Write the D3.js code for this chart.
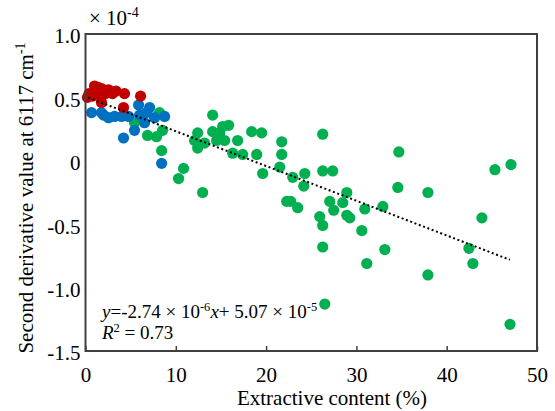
<!DOCTYPE html>
<html><head><meta charset="utf-8">
<script src="https://cdn.jsdelivr.net/npm/d3@7"></script>
<style>body{margin:0;background:#fff}svg text{font-family:"Liberation Serif","Times New Roman","DejaVu Serif",serif !important}</style>
</head><body>
<svg id="c" width="555" height="411"></svg>
<script>
const xTicks = [0,10,20,30,40,50];
const yTicks = [1.0,0.5,0,-0.5,-1.0,-1.5];
const yTickLabels = ["1.0","0.5","0","-0.5","-1.0","-1.5"];
const redX = [0.22,0.39,1.0,1.39,1.77,2.22,2.55,2.99,3.38,4.32,6.10,1.77,4.21,0.78,1.55];
const redY = [0.50,0.53,0.59,0.58,0.57,0.53,0.56,0.53,0.55,0.53,0.51,0.46,0.42,0.51,0.52];
const blueX = [0.67,1.77,2.55,3.22,3.99,4.77,5.88,7.10,5.99,6.76,7.65,8.76,6.54,5.43,4.21,8.43,2.0];
const blueY = [0.38,0.38,0.34,0.35,0.35,0.35,0.44,0.42,0.36,0.38,0.34,0.35,0.30,0.24,0.18,-0.02,0.36];
const greenX = [8.20,5.43,6.87,7.87,8.54,8.43,14.08,12.42,12.08,12.42,13.19,14.08,15.19,15.85,14.86,14.52,15.41,16.85,16.30,17.41,18.40,19.51,18.96,19.62,21.73,21.73,21.51,22.95,24.28,24.17,26.27,26.27,27.38,28.94,22.28,22.73,23.50,27.05,28.49,27.49,28.94,29.27,25.94,26.27,30.93,32.93,30.60,26.27,33.15,31.15,26.50,34.70,34.59,37.92,37.92,45.34,47.12,43.90,42.46,42.90,47.01,10.86,10.31,12.97];
const greenY = [0.38,0.30,0.20,0.19,0.24,0.08,0.36,0.22,0.16,0.10,0.14,0.23,0.27,0.28,0.22,0.16,0.16,0.16,0.06,0.05,0.23,0.22,0.05,-0.10,0.15,0.05,-0.05,-0.13,-0.10,-0.20,0.21,-0.08,-0.08,-0.25,-0.32,-0.32,-0.37,-0.32,-0.33,-0.39,-0.43,-0.45,-0.44,-0.51,-0.38,-0.36,-0.55,-0.68,-0.70,-0.81,-1.13,0.07,-0.21,-0.25,-0.90,-0.07,-0.03,-0.45,-0.69,-0.81,-1.29,-0.06,-0.14,-0.25];
const slope = -0.0274, intercept = 0.507; // in units of 1e-4
const fitRange = [0.3, 47];

const svg = d3.select("#c");
const L=85.5, R=537, T=34, B=351;
const x = d3.scaleLinear().domain([0,50]).range([L,R]);
const y = d3.scaleLinear().domain([-1.5,1.0]).range([B,T]);
const axisColor = "#404040";
const FONT = "Liberation Serif, Times New Roman, DejaVu Serif, serif";

function pts(xs, ys, color){
  svg.append("g").selectAll("circle").data(xs.map((v,i)=>[v,ys[i]])).join("circle")
    .attr("cx",d=>x(d[0])).attr("cy",d=>y(d[1])).attr("r",5.6).attr("fill",color);
}
pts(greenX, greenY, "#00B050");
pts(blueX, blueY, "#0070C0");
pts(redX, redY, "#C00000");

svg.append("line").attr("x1",x(fitRange[0])).attr("y1",y(slope*fitRange[0]+intercept))
  .attr("x2",x(fitRange[1])).attr("y2",y(slope*fitRange[1]+intercept))
  .attr("stroke","#000").attr("stroke-width",2).attr("stroke-dasharray","2,2.6");

// frame
svg.append("rect").attr("x",L).attr("y",T).attr("width",R-L).attr("height",B-T)
  .attr("fill","none").attr("stroke",axisColor).attr("stroke-width",2);

// x axis
const xa = svg.append("g").attr("transform",`translate(0,${B})`)
  .call(d3.axisBottom(x).tickValues(xTicks).tickSize(-5).tickPadding(16).tickFormat(d3.format("d")));
xa.attr("font-family",FONT);
xa.select(".domain").remove();
xa.selectAll("line").attr("stroke",axisColor).attr("stroke-width",1.5);
xa.selectAll("text").attr("font-size",21).attr("fill","#000");

// y axis
const ya = svg.append("g").attr("transform",`translate(${L},0)`)
  .call(d3.axisLeft(y).tickValues(yTicks).tickSize(0).tickPadding(5).tickFormat((d,i)=>yTickLabels[i]));
ya.attr("font-family",FONT);
ya.select(".domain").remove();
ya.selectAll("text").attr("font-size",21).attr("fill","#000").attr("dy","0.42em");

// exponent label
const ex = svg.append("text").attr("x",89).attr("y",25).attr("font-size",21).attr("font-family",FONT);
ex.append("tspan").text("× 10");
ex.append("tspan").attr("font-size",14).attr("dy",-8).text("-4");

// axis titles
svg.append("text").attr("x",332).attr("y",405).attr("text-anchor","middle").attr("font-size",21).attr("font-family",FONT).text("Extractive content (%)");
const yt = svg.append("text").attr("transform","translate(33,198) rotate(-90)").attr("text-anchor","middle").attr("font-size",21).attr("font-family",FONT);
yt.append("tspan").text("Second derivative value at 6117 cm");
yt.append("tspan").attr("font-size",14).attr("dy",-8).text("-1");

// equation
const eq = svg.append("text").attr("x",102).attr("y",318).attr("font-size",19).attr("font-family",FONT);
eq.append("tspan").attr("font-style","italic").text("y");
eq.append("tspan").text("=-2.74 × 10");
eq.append("tspan").attr("font-size",12.5).attr("dy",-7).text("-6");
eq.append("tspan").attr("font-style","italic").attr("dy",7).text("x");
eq.append("tspan").text("+ 5.07 × 10");
eq.append("tspan").attr("font-size",12.5).attr("dy",-7).text("-5");
const r2 = svg.append("text").attr("x",102).attr("y",339).attr("font-size",19).attr("font-family",FONT);
r2.append("tspan").attr("font-style","italic").text("R");
r2.append("tspan").attr("font-size",12.5).attr("dy",-7).text("2");
r2.append("tspan").attr("dy",7).text(" = 0.73");
</script>
</body></html>
